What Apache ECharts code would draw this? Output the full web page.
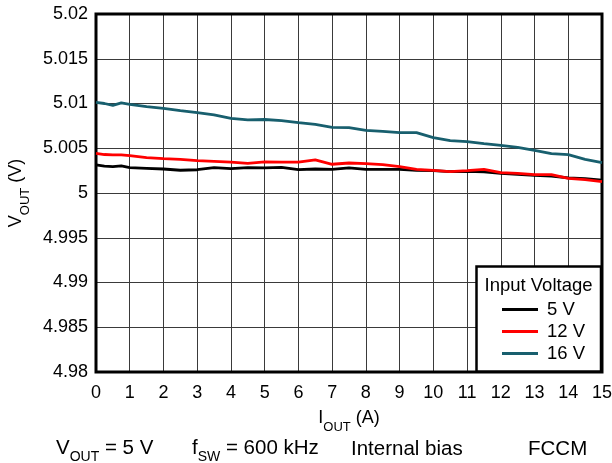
<!DOCTYPE html>
<html>
<head>
<meta charset="utf-8">
<script src="https://cdn.jsdelivr.net/npm/echarts@6/dist/echarts.min.js"></script>
<style>html,body{margin:0;padding:0;background:#fff}#c{width:612px;height:463px}</style>
</head>
<body>
<div id="c"></div>
<script>
const iout = [0, 0.25, 0.5, 0.75, 1, 1.5, 2, 2.5, 3, 3.5, 4, 4.5, 5, 5.5, 6, 6.5, 7, 7.5, 8, 8.5, 9, 9.5, 10, 10.5, 11, 11.5, 12, 12.5, 13, 13.5, 14, 14.5, 15];
const v5 = [5.00313, 5.00300, 5.00294, 5.00302, 5.00283, 5.00276, 5.00268, 5.00254, 5.00260, 5.00283, 5.00272, 5.00283, 5.00280, 5.00287, 5.00262, 5.00268, 5.00265, 5.00280, 5.00265, 5.00265, 5.00265, 5.00254, 5.00250, 5.00238, 5.00242, 5.00235, 5.00220, 5.00209, 5.00198, 5.00190, 5.00168, 5.00160, 5.00145];
const v12 = [5.00443, 5.00430, 5.00425, 5.00425, 5.00417, 5.00395, 5.00384, 5.00376, 5.00361, 5.00354, 5.00346, 5.00332, 5.00348, 5.00346, 5.00346, 5.00369, 5.00321, 5.00335, 5.00328, 5.00317, 5.00294, 5.00265, 5.00252, 5.00238, 5.00250, 5.00265, 5.00227, 5.00220, 5.00205, 5.00205, 5.00164, 5.00149, 5.00127];
const v16 = [5.01013, 5.01000, 5.00980, 5.01006, 5.00991, 5.00964, 5.00946, 5.00920, 5.00897, 5.00872, 5.00834, 5.00816, 5.00821, 5.00808, 5.00786, 5.00767, 5.00734, 5.00730, 5.00700, 5.00689, 5.00674, 5.00674, 5.00618, 5.00585, 5.00573, 5.00551, 5.00532, 5.00510, 5.00477, 5.00439, 5.00428, 5.00376, 5.00339];
const seriesNames = ['5 V', '12 V', '16 V'];
const seriesColors = ['#000000', '#ff0000', '#185f6e'];
const seriesValues = [v5, v12, v16];

const font = 'Liberation Sans, Arial, sans-serif';
const chart = echarts.init(document.getElementById('c'));
function subRich(size, subSize, drop) {
  return {
    n: {fontSize: size, fontFamily: font, color: '#000'},
    s: {fontSize: subSize, fontFamily: font, color: '#000', verticalAlign: 'bottom', padding: [0,0,-drop,0]}
  };
}
chart.setOption({
  animation: false,
  backgroundColor: '#fff',
  grid: {left: 96, top: 14, right: 10, bottom: 91, show: true, borderColor: '#000', borderWidth: 3, z: 3,
         containLabel: false, outerBoundsMode: 'none'},
  xAxis: {
    type: 'value', min: 0, max: 15, interval: 1,
    name: '{n|I}{s|OUT}{n| (A)}', nameLocation: 'middle', nameGap: 37,
    nameTextStyle: {rich: subRich(18, 13, 7)},
    axisLine: {show: false}, axisTick: {show: false},
    axisLabel: {fontSize: 18, fontFamily: font, color: '#000', margin: 12},
    splitLine: {show: true, lineStyle: {color: '#3a3a3a', width: 1}}
  },
  yAxis: {
    type: 'value', min: 4.98, max: 5.02, interval: 0.005,
    name: '{n|V}{s|OUT}{n| (V)}', nameLocation: 'middle', nameGap: 70, nameRotate: 90,
    nameTextStyle: {rich: subRich(18, 13, 7)},
    axisLine: {show: false}, axisTick: {show: false},
    axisLabel: {fontSize: 18, fontFamily: font, color: '#000', margin: 8,
      formatter: v => String(parseFloat(v.toFixed(3)))},
    splitLine: {show: true, lineStyle: {color: '#3a3a3a', width: 1}}
  },
  legend: {
    orient: 'vertical', left: 497, top: 295, z: 10,
    itemWidth: 36, itemHeight: 3, itemGap: 3, icon: 'rect',
    textStyle: {fontSize: 18.5, fontFamily: font, color: '#000', padding: [0,0,0,4]},
    data: seriesNames
  },
  graphic: [
    {type: 'rect', z: 8, shape: {x: 476.5, y: 266.5, width: 124.5, height: 105}, style: {fill: '#fff', stroke: '#000', lineWidth: 2.5}},
    {type: 'text', z: 9, style: {text: 'Input Voltage', x: 538.5, y: 285.5, align: 'center', verticalAlign: 'middle', fontSize: 18.5, fontFamily: font, fill: '#000'}},
    {type: 'text', z: 9, style: {x: 56, y: 448, verticalAlign: 'middle', text: '{n|V}{s|OUT}{n| = 5 V}', rich: subRich(20.5, 14, 6)}},
    {type: 'text', z: 9, style: {x: 192, y: 448, verticalAlign: 'middle', text: '{n|f}{s|SW}{n| = 600 kHz}', rich: subRich(20.5, 14, 6)}},
    {type: 'text', z: 9, style: {x: 351, y: 449, verticalAlign: 'middle', text: 'Internal bias', fontSize: 20.5, fontFamily: font, fill: '#000'}},
    {type: 'text', z: 9, style: {x: 528, y: 449, verticalAlign: 'middle', text: 'FCCM', fontSize: 20.5, fontFamily: font, fill: '#000'}}
  ],
  series: seriesNames.map((n, i) => ({
    name: n, type: 'line', showSymbol: false, symbol: 'none', z: 4,
    color: seriesColors[i],
    lineStyle: {width: 2.8, color: seriesColors[i]},
    data: iout.map((x, j) => [x, seriesValues[i][j]])
  }))
});
</script>
</body>
</html>
